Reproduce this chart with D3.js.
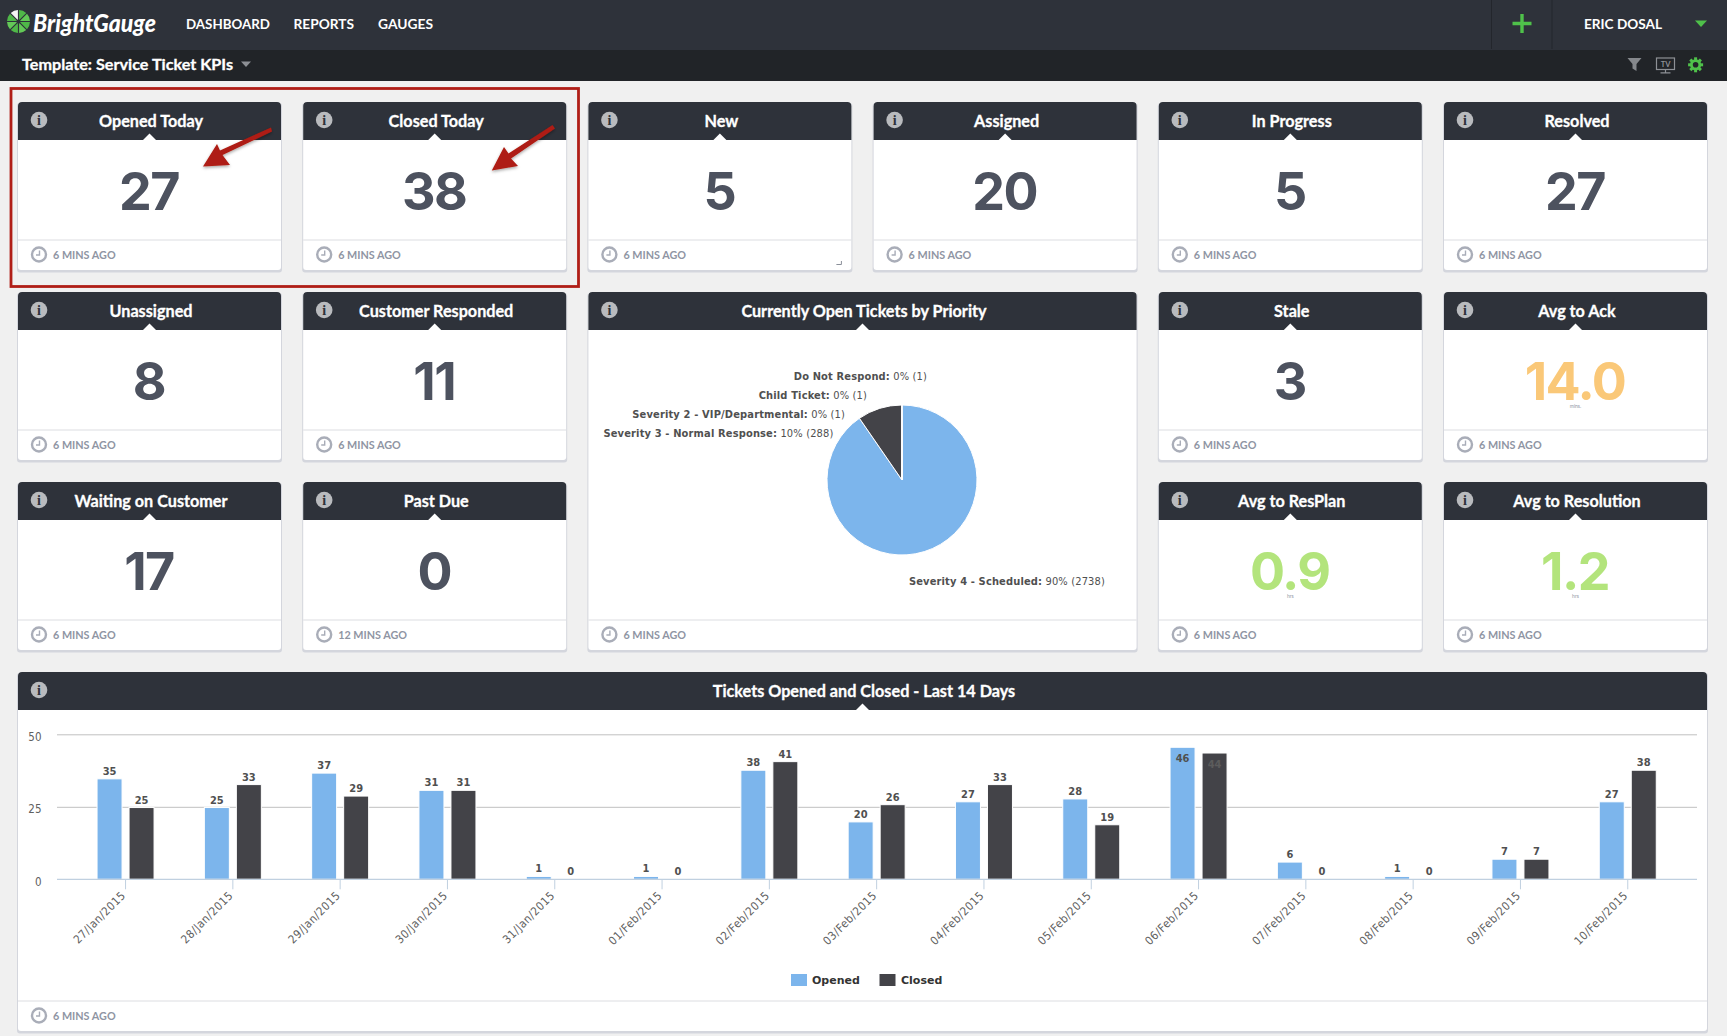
<!DOCTYPE html>
<html>
<head>
<meta charset="utf-8">
<title>Service Ticket KPIs</title>
<script src="https://cdn.jsdelivr.net/npm/d3@7"></script>
<style>
  html, body { margin: 0; padding: 0; background: #f0f0f0; overflow: hidden; }
  svg { display: block; }
  text { font-family: "Lato", sans-serif; }
  .head-title { fill: #fff; stroke: #fff; stroke-width: 0.3px; font-size: 16.2px; font-weight: 700; text-anchor: middle; dominant-baseline: central; }
  .big { font-family: "Inter", sans-serif; fill: #4d525f; font-size: 52px; font-weight: 700; letter-spacing: -1.5px; text-anchor: middle; dominant-baseline: central; }
  .ago { fill: #8f95a3; font-size: 10.8px; font-weight: 700; dominant-baseline: central; }
  .axis text { font-family: "DejaVu Sans Condensed", "DejaVu Sans", sans-serif; font-size: 11.5px; fill: #606060; }
  .axis .domain { display: none; }
</style>
</head>
<body>
<svg id="page" width="1727" height="1036"></svg>
<script>
const svg = d3.select("#page");

// Dashboard tiles, col/row are grid positions
const tiles = [
  { title: "Opened Today", value: "27", ago: "6 MINS AGO", col: 0, row: 0 },
  { title: "Closed Today", value: "38", ago: "6 MINS AGO", col: 1, row: 0 },
  { title: "New", value: "5", ago: "6 MINS AGO", col: 2, row: 0, grip: true },
  { title: "Assigned", value: "20", ago: "6 MINS AGO", col: 3, row: 0 },
  { title: "In Progress", value: "5", ago: "6 MINS AGO", col: 4, row: 0 },
  { title: "Resolved", value: "27", ago: "6 MINS AGO", col: 5, row: 0 },
  { title: "Unassigned", value: "8", ago: "6 MINS AGO", col: 0, row: 1 },
  { title: "Customer Responded", value: "11", ago: "6 MINS AGO", col: 1, row: 1 },
  { title: "Stale", value: "3", ago: "6 MINS AGO", col: 4, row: 1 },
  { title: "Avg to Ack", value: "14.0", unit: "mins.", color: "#fac878", ago: "6 MINS AGO", col: 5, row: 1 },
  { title: "Waiting on Customer", value: "17", ago: "6 MINS AGO", col: 0, row: 2 },
  { title: "Past Due", value: "0", ago: "12 MINS AGO", col: 1, row: 2 },
  { title: "Avg to ResPlan", value: "0.9", unit: "hrs", color: "#b3e47c", ago: "6 MINS AGO", col: 4, row: 2 },
  { title: "Avg to Resolution", value: "1.2", unit: "hrs", color: "#b3e47c", ago: "6 MINS AGO", col: 5, row: 2 }
];

const priority = [
  { name: "Severity 4 - Scheduled", pct: "90%", count: 2738, color: "#7cb5ec", dx: 203, dy: 101, anchor: "end" },
  { name: "Severity 3 - Normal Response", pct: "10%", count: 288, color: "#434348", dx: -68.5, dy: -47, anchor: "end" },
  { name: "Severity 2 - VIP/Departmental", pct: "0%", count: 1, color: "#90ed7d", dx: -57, dy: -66, anchor: "end" },
  { name: "Child Ticket", pct: "0%", count: 1, color: "#f7a35c", dx: -35, dy: -85, anchor: "end" },
  { name: "Do Not Respond", pct: "0%", count: 1, color: "#8085e9", dx: 25, dy: -104, anchor: "end" }
];

const days = [
  { day: "27/Jan/2015", Opened: 35, Closed: 25 },
  { day: "28/Jan/2015", Opened: 25, Closed: 33 },
  { day: "29/Jan/2015", Opened: 37, Closed: 29 },
  { day: "30/Jan/2015", Opened: 31, Closed: 31 },
  { day: "31/Jan/2015", Opened: 1, Closed: 0 },
  { day: "01/Feb/2015", Opened: 1, Closed: 0 },
  { day: "02/Feb/2015", Opened: 38, Closed: 41 },
  { day: "03/Feb/2015", Opened: 20, Closed: 26 },
  { day: "04/Feb/2015", Opened: 27, Closed: 33 },
  { day: "05/Feb/2015", Opened: 28, Closed: 19 },
  { day: "06/Feb/2015", Opened: 46, Closed: 44 },
  { day: "07/Feb/2015", Opened: 6, Closed: 0 },
  { day: "08/Feb/2015", Opened: 1, Closed: 0 },
  { day: "09/Feb/2015", Opened: 7, Closed: 7 },
  { day: "10/Feb/2015", Opened: 27, Closed: 38 }
];
const seriesColor = { Opened: "#7cb5ec", Closed: "#434348" };

const colX = c => 18 + c * 285.2;
const rowY = r => 102 + r * 190;
const tileW = 263;
const headH = 38;

// Draws the empty card: footer, header, notch, info icon, clock
function drawCard(x, y, w, h, title, ago) {
  const g = svg.append("g").attr("transform", `translate(${x},${y})`);
  g.append("rect").attr("x", -1).attr("y", 1).attr("width", w + 2).attr("height", h + 1.5)
    .attr("rx", 3).attr("fill", "#d4d6dd");
  g.append("rect").attr("width", w).attr("height", h).attr("rx", 3).attr("fill", "#fff");
  g.append("path")
    .attr("d", `M0,${headH}V4Q0,0 4,0H${w - 4}Q${w},0 ${w},4V${headH}Z`)
    .attr("fill", "#2e323a");
  g.append("path")
    .attr("d", `M${w / 2 - 6.5},${headH}l6.5,-6.5l6.5,6.5Z`)
    .attr("fill", "#fff");
  g.append("text").attr("class", "head-title")
    .attr("x", w / 2 + 1.5).attr("y", 18.5).text(title);

  g.append("circle").attr("cx", 21).attr("cy", 18).attr("r", 8.3).attr("fill", "#b9bbbe");
  g.append("text").attr("x", 21).attr("y", 18.5)
    .attr("text-anchor", "middle").attr("dominant-baseline", "central")
    .style("font-family", "'Liberation Serif', serif").style("font-weight", 700).style("font-size", "14px")
    .attr("fill", "#2e323a").text("i");

  g.append("line").attr("x1", 0).attr("x2", w).attr("y1", h - 30).attr("y2", h - 30)
    .attr("stroke", "#dcdde1").attr("stroke-width", 1);
  const clock = g.append("g").attr("transform", `translate(21,${h - 15.5})`);
  clock.append("circle").attr("r", 7).attr("fill", "none").attr("stroke", "#a9adb8").attr("stroke-width", 2.4);
  clock.append("path").attr("d", "M0.5,-4V0.5H-3").attr("fill", "none").attr("stroke", "#a9adb8").attr("stroke-width", 1.4);
  g.append("text").attr("class", "ago").attr("x", 35).attr("y", h - 15.5).text(ago);
  return g;
}

// Top bars
svg.append("rect").attr("width", 1727).attr("height", 50).attr("fill", "#2e323a");
svg.append("rect").attr("y", 50).attr("width", 1727).attr("height", 31).attr("fill", "#212428");

// Logo wheel
const logo = svg.append("g").attr("transform", "translate(18.5,21.5)");
const wheelArc = d3.arc().innerRadius(2).outerRadius(11.5).padAngle(0.1);
d3.pie().value(1).sort(null).startAngle(-Math.PI / 4)(d3.range(8)).forEach((d, i) => {
  logo.append("path").attr("d", wheelArc(d)).attr("fill", i === 0 ? "#f4f4f4" : (i % 2 ? "#4fb848" : "#63c957"));
});
svg.append("text").attr("x", 33).attr("y", 32)
  .style("font-size", "25.5px").style("font-weight", 900).style("font-style", "italic")
  .attr("fill", "#fff").attr("textLength", 123).attr("lengthAdjust", "spacingAndGlyphs").text("BrightGauge");

// Nav
[["DASHBOARD", 186, 84], ["REPORTS", 293.5, 60.5], ["GAUGES", 378, 55]].forEach(n => {
  svg.append("text").attr("x", n[1]).attr("y", 23.5).attr("dominant-baseline", "central")
    .style("font-size", "14px").style("font-weight", 700).attr("fill", "#fff")
    .attr("textLength", n[2]).attr("lengthAdjust", "spacingAndGlyphs").text(n[0]);
});
[1491.5, 1552].forEach(x => {
  svg.append("line").attr("x1", x).attr("x2", x).attr("y1", 0).attr("y2", 49).attr("stroke", "#23262c");
});
svg.append("path").attr("d", "M1522,14V33M1512.5,23.5H1531.5").attr("stroke", "#4fc14a").attr("stroke-width", 3.4);
svg.append("text").attr("x", 1584).attr("y", 23.5).attr("dominant-baseline", "central")
  .style("font-size", "14px").style("font-weight", 700).attr("fill", "#fff")
  .attr("textLength", 78).attr("lengthAdjust", "spacingAndGlyphs").text("ERIC DOSAL");
svg.append("path").attr("d", "M1695,20.5H1707L1701,27Z").attr("fill", "#4fc14a");

// Sub bar
svg.append("text").attr("x", 22).attr("y", 63.5).attr("dominant-baseline", "central")
  .style("font-size", "16px").style("font-weight", 700).attr("fill", "#fff")
  .attr("stroke", "#fff").attr("stroke-width", 0.3)
  .attr("textLength", 211).attr("lengthAdjust", "spacingAndGlyphs").text("Template: Service Ticket KPIs");
svg.append("path").attr("d", "M241,61.5H251L246,67Z").attr("fill", "#8d9095");
svg.append("path").attr("d", "M1627.5,58H1641.5L1636.5,64V71L1632.5,68.5V64Z").attr("fill", "#85888c");
svg.append("rect").attr("x", 1656.5).attr("y", 58).attr("width", 18).attr("height", 11.5)
  .attr("fill", "none").attr("stroke", "#8d9095").attr("stroke-width", 1.2);
svg.append("path").attr("d", "M1665.5,69.5V72.5M1660.5,72.8H1670.5").attr("stroke", "#8d9095").attr("stroke-width", 1.2);
svg.append("text").attr("x", 1665.5).attr("y", 64).attr("text-anchor", "middle").attr("dominant-baseline", "central")
  .style("font-size", "7.5px").style("font-weight", 700).attr("fill", "#8d9095").text("TV");
const gear = svg.append("g").attr("transform", "translate(1695.6,64.8)");
gear.append("circle").attr("r", 4.2).attr("fill", "none").attr("stroke", "#4fc14a").attr("stroke-width", 2.8);
d3.range(8).forEach(i => {
  gear.append("rect").attr("x", -1.5).attr("y", -7.5).attr("width", 3).attr("height", 3)
    .attr("fill", "#4fc14a").attr("transform", `rotate(${i * 45})`);
});

// KPI tiles
tiles.forEach(t => {
  const g = drawCard(colX(t.col), rowY(t.row), tileW, 168, t.title, t.ago);
  g.append("text").attr("class", "big").attr("x", tileW / 2 - 0.5).attr("y", 89)
    .style("fill", t.color || null).text(t.value);
  if (t.unit) {
    g.append("text").attr("x", tileW / 2).attr("y", 114)
      .attr("text-anchor", "middle").attr("dominant-baseline", "central")
      .style("font-size", "5px").attr("fill", "#8f95a3").text(t.unit);
  }
  if (t.grip) {
    g.append("path").attr("d", `M${tileW - 10},${168 - 9}V${168 - 5.5}H${tileW - 15}`)
      .attr("fill", "none").attr("stroke", "#8a8f99").attr("stroke-width", 1);
  }
});

// Pie tile
drawCard(colX(2), rowY(1), 548.2, 358, "Currently Open Tickets by Priority", "6 MINS AGO");
const pieG = svg.append("g").attr("transform", "translate(902,480)");
const pie = d3.pie().value(d => d.count).sort(null);
const arc = d3.arc().innerRadius(0).outerRadius(75);
pieG.selectAll("path").data(pie(priority)).join("path")
  .attr("d", arc).attr("fill", d => d.data.color)
  .attr("stroke", "#fff").attr("stroke-width", 1);
const pieLabels = pieG.selectAll("text").data(priority).join("text")
  .attr("x", d => d.dx).attr("y", d => d.dy)
  .attr("text-anchor", d => d.anchor)
  .attr("dominant-baseline", "central")
  .style("font-family", "'DejaVu Sans Condensed', 'DejaVu Sans', sans-serif")
  .style("font-size", "11px").style("letter-spacing", "0.15px").attr("fill", "#505050");
pieLabels.append("tspan").style("font-weight", 700).text(d => d.name + ":");
pieLabels.append("tspan").text(d => ` ${d.pct} (${d.count})`);

// Bar chart tile
drawCard(18, 672, 1689, 359, "Tickets Opened and Closed - Last 14 Days", "6 MINS AGO");

const x0 = d3.scaleBand().domain(days.map(d => d.day)).range([71.9, 1681.4]);
const x1 = d3.scaleBand().domain(["Opened", "Closed"]).range([-28.5, 28.5]).paddingInner(7 / 32);
const y = d3.scaleLinear().domain([0, 50]).range([879.3, 734.3]);
// bars sit a little under the grid in the original
const barY = d3.scaleLinear().domain([0, 50]).range([879.3, 735.8]);

// Grid lines come from the y axis ticks
svg.append("g").attr("class", "axis")
  .attr("transform", "translate(57,0)")
  .call(d3.axisLeft(y).tickValues([0, 25, 50]).tickSize(-1640).tickPadding(15.5))
  .call(g => g.selectAll(".tick line").attr("stroke", d => d === 0 ? "none" : "#c0c0c0").attr("stroke-width", 1))
  .call(g => g.selectAll(".tick text").attr("dy", "0.62em").attr("y", -1));

const groups = svg.append("g").selectAll("g").data(days).join("g")
  .attr("transform", d => `translate(${x0(d.day) + x0.bandwidth() / 2},0)`);
const cells = groups.selectAll("g").data(d => x1.domain().map(k => ({ key: k, value: d[k] }))).join("g");

cells.filter(d => d.value > 0).append("rect")
  .attr("x", d => x1(d.key)).attr("width", x1.bandwidth())
  .attr("y", d => barY(d.value)).attr("height", d => barY(0) - barY(d.value))
  .attr("fill", d => seriesColor[d.key])
  .attr("stroke", "#fff").attr("stroke-width", 1);

cells.append("text")
  .attr("x", d => x1(d.key) + x1.bandwidth() / 2)
  .attr("y", d => d.value > 42 ? barY(d.value) + 11.5 : barY(d.value) - 7.5)
  .attr("text-anchor", "middle").attr("dominant-baseline", "central")
  .style("font-family", "'DejaVu Sans Condensed', 'DejaVu Sans', sans-serif")
  .style("font-size", "11px").style("font-weight", 700)
  .attr("fill", d => d.value > 42 && d.key === "Closed" ? "#5c5c5c" : "#505050")
  .text(d => d.value);

// X axis
svg.append("line").attr("x1", 57).attr("x2", 1697).attr("y1", y(0)).attr("y2", y(0))
  .attr("stroke", "#c0d0e0").attr("stroke-width", 1.2);
svg.append("g").attr("class", "axis")
  .attr("transform", `translate(0,${y(0)})`)
  .call(d3.axisBottom(x0).tickSize(10).tickPadding(0))
  .call(g => g.selectAll(".tick line").attr("stroke", "#c0d0e0"))
  .call(g => g.selectAll(".tick text")
    .attr("text-anchor", "end").attr("dy", null).attr("dominant-baseline", "central")
    .style("letter-spacing", "0.5px")
    .attr("transform", "translate(-2,14) rotate(-45)").attr("y", 0));

// Legend
const legend = svg.append("g").selectAll("g").data([["Opened", 791, 812], ["Closed", 879.5, 901]]).join("g");
legend.append("rect").attr("x", d => d[1]).attr("y", 974).attr("width", 16).attr("height", 12)
  .attr("fill", d => seriesColor[d[0]]);
legend.append("text").attr("x", d => d[2]).attr("y", 980.5).attr("dominant-baseline", "central")
  .style("font-family", "'DejaVu Sans', sans-serif").style("font-size", "11px").style("font-weight", 700)
  .attr("fill", "#333").text(d => d[0]);

// Red annotation box and arrows
svg.append("rect").attr("x", 11).attr("y", 88.5).attr("width", 567.5).attr("height", 198)
  .attr("fill", "none").attr("stroke", "#b01e17").attr("stroke-width", 2.8);

const defs = svg.append("defs");
defs.append("filter").attr("id", "arrow-shadow").attr("x", "-30%").attr("y", "-30%").attr("width", "160%").attr("height", "160%")
  .append("feDropShadow").attr("dx", 0).attr("dy", 1.5).attr("stdDeviation", 1.5).attr("flood-opacity", 0.35);
const arrows = [
  "M271,127.5L272,131.5L222.5,155L230,165L203,166.5L217,144L220,150.5Z",
  "M552.5,125L555,128.5L511,158.5L518,166L491.8,170.5L504,147L508.5,153.5Z"
];
svg.selectAll("path.arrow").data(arrows).join("path").attr("class", "arrow")
  .attr("d", d => d).attr("fill", "#ae1c12").attr("filter", "url(#arrow-shadow)");
</script>
</body>
</html>
